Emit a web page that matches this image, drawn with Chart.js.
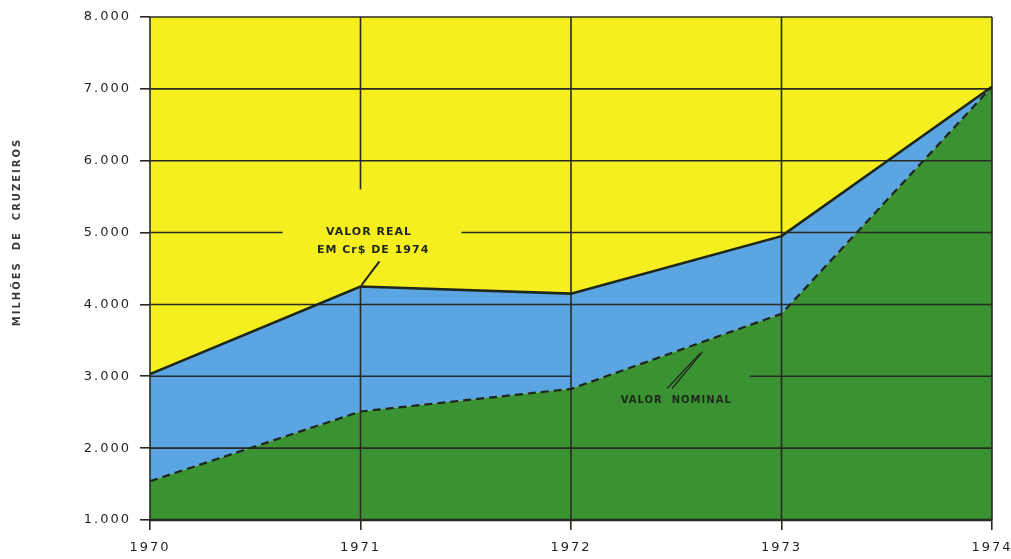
<!DOCTYPE html>
<html>
<head>
<meta charset="utf-8">
<script src="https://cdn.jsdelivr.net/npm/chart.js@4"></script>
<style>
  html, body { margin: 0; padding: 0; background: #ffffff; }
  #wrap { width: 1011px; height: 559px; position: relative; }
</style>
</head>
<body>
<div id="wrap"><canvas id="c" width="1011" height="559"></canvas></div>
<script>
// ---- data ----
const years = [1970, 1971, 1972, 1973, 1974];
const valorReal = [3030, 4250, 4150, 4950, 7030];
const valorNominal = [1540, 2510, 2825, 3870, 7030];
const yTickValues = [1000, 2000, 3000, 4000, 5000, 6000, 7000, 8000];
const yTickLabels = ['1.000', '2.000', '3.000', '4.000', '5.000', '6.000', '7.000', '8.000'];
const yAxisTitle = 'MILHÕES  DE  CRUZEIROS';
const labelReal = ['VALOR REAL', 'EM Cr$ DE 1974'];
const labelNominal = 'VALOR  NOMINAL';

// ---- style ----
const YELLOW = '#f6ef1f';
const BLUE = '#5aa5e2';
const GREEN = '#3b9232';
const INK = '#1f261c';
const GRID = '#272b22';

const xy = (xs, ys) => xs.map((x, i) => ({ x: x, y: ys[i] }));

const gaps = {
  v: { 1971: [[valorReal[1], 5600]] },
  h: { 5000: [[1970.63, 1971.48]], 3000: [[1972, 1972.85]] }
};

const decor = {
  id: 'decor',
  beforeDraw(chart) {
    const { ctx, chartArea: a } = chart;
    ctx.save();
    ctx.fillStyle = YELLOW;
    ctx.fillRect(a.left, a.top, a.width, a.height);
    ctx.restore();
    ctx.letterSpacing = '2px';
  },
  beforeDatasetsDraw(chart) {
    const { ctx, scales } = chart;
    const xs = scales.x, ys = scales.y;
    ctx.save();
    ctx.strokeStyle = GRID;
    ctx.lineWidth = 1.6;
    years.forEach(yr => {
      const px = xs.getPixelForValue(yr);
      const g = (gaps.v[yr] || []).slice().sort((p, q) => p[0] - q[0]);
      let from = yTickValues[0];
      const segs = [];
      g.forEach(([lo, hi]) => { segs.push([from, lo]); from = hi; });
      segs.push([from, yTickValues[yTickValues.length - 1]]);
      segs.forEach(([lo, hi]) => {
        ctx.beginPath();
        ctx.moveTo(px, ys.getPixelForValue(lo));
        ctx.lineTo(px, ys.getPixelForValue(hi));
        ctx.stroke();
      });
    });
    yTickValues.forEach(v => {
      const py = ys.getPixelForValue(v);
      const g = (gaps.h[v] || []).slice().sort((p, q) => p[0] - q[0]);
      let from = years[0];
      const segs = [];
      g.forEach(([lo, hi]) => { segs.push([from, lo]); from = hi; });
      segs.push([from, years[years.length - 1]]);
      ctx.lineWidth = (v === yTickValues[0]) ? 2.4 : 1.6;
      segs.forEach(([lo, hi]) => {
        ctx.beginPath();
        ctx.moveTo(xs.getPixelForValue(lo), py);
        ctx.lineTo(xs.getPixelForValue(hi), py);
        ctx.stroke();
      });
    });
    ctx.restore();
  },
  afterDatasetsDraw(chart) {
    const { ctx, scales } = chart;
    const xs = scales.x, ys = scales.y;
    const P = (xv, yv) => [xs.getPixelForValue(xv), ys.getPixelForValue(yv)];
    ctx.save();
    ctx.fillStyle = INK;
    ctx.strokeStyle = INK;
    ctx.textAlign = 'center';
    ctx.textBaseline = 'middle';
    ctx.font = 'bold 11px "DejaVu Sans"';
    ctx.letterSpacing = '1px';
    let p = P(1971.04, 5000);
    ctx.fillText(labelReal[0], p[0], p[1]);
    p = P(1971.06, 4760);
    ctx.fillText(labelReal[1], p[0], p[1]);
    ctx.lineWidth = 2;
    let s = P(1971.09, 4600), e = P(1971.005, valorReal[1] + 20);
    ctx.beginPath(); ctx.moveTo(s[0], s[1]); ctx.lineTo(e[0], e[1]); ctx.stroke();
    ctx.font = 'bold 10px "DejaVu Sans"';
    ctx.letterSpacing = '1px';
    p = P(1972.5, 2670);
    ctx.fillText(labelNominal, p[0], p[1]);
    ctx.lineWidth = 1.2;
    s = P(1972.625, 3340); e = P(1972.48, 2830);
    ctx.beginPath(); ctx.moveTo(s[0], s[1]); ctx.lineTo(e[0], e[1]); ctx.stroke();
    ctx.beginPath(); ctx.moveTo(s[0] - 2, s[1] + 1); ctx.lineTo(e[0] - 5, e[1]); ctx.stroke();
    ctx.restore();
  },
  afterDraw(chart) {
    const { ctx } = chart;
    ctx.save();
    ctx.translate(17, 232);
    ctx.rotate(-Math.PI / 2);
    ctx.font = 'bold 10px "DejaVu Sans"';
    ctx.letterSpacing = '2px';
    ctx.fillStyle = '#3a3d36';
    ctx.textAlign = 'center';
    ctx.textBaseline = 'middle';
    ctx.fillText(yAxisTitle, 0, 0);
    ctx.restore();
  }
};

new Chart(document.getElementById('c'), {
  type: 'line',
  data: {
    datasets: [
      {
        label: 'Valor real em Cr$ de 1974',
        data: xy(years, valorReal),
        borderColor: INK,
        borderWidth: 2.6,
        backgroundColor: BLUE,
        fill: { target: 1 },
        pointRadius: 0,
        tension: 0
      },
      {
        label: 'Valor nominal',
        data: xy(years, valorNominal),
        borderColor: INK,
        borderWidth: 2.2,
        borderDash: [8, 5],
        backgroundColor: GREEN,
        fill: 'start',
        pointRadius: 0,
        tension: 0
      }
    ]
  },
  options: {
    responsive: false,
    animation: false,
    events: [],
    layout: { padding: { top: 17, right: 19, bottom: 0, left: 0 } },
    plugins: {
      legend: { display: false },
      tooltip: { enabled: false },
      filler: { drawTime: 'beforeDatasetsDraw' }
    },
    scales: {
      x: {
        type: 'linear',
        min: years[0],
        max: years[years.length - 1],
        afterBuildTicks: sc => { sc.ticks = years.map(v => ({ value: v })); },
        ticks: {
          callback: v => String(v),
          font: { family: 'DejaVu Sans', size: 13 },
          color: '#1f221c',
          padding: 10,
          maxRotation: 0,
          autoSkip: false
        },
        grid: { drawOnChartArea: false, drawTicks: true, tickLength: 10, color: GRID, lineWidth: 1.6 },
        border: { display: false },
        afterFit: sc => { sc.height = 39; sc.paddingLeft = 0; sc.paddingRight = 0; }
      },
      y: {
        min: yTickValues[0],
        max: yTickValues[yTickValues.length - 1],
        afterBuildTicks: sc => { sc.ticks = yTickValues.map(v => ({ value: v })); },
        ticks: {
          callback: v => yTickLabels[yTickValues.indexOf(v)],
          font: { family: 'DejaVu Sans', size: 13 },
          color: '#1f221c',
          padding: 9,
          autoSkip: false
        },
        grid: { drawOnChartArea: false, drawTicks: true, tickLength: 10, color: GRID, lineWidth: 1.6 },
        border: { display: false },
        afterFit: sc => { sc.width = 150; sc.paddingTop = 0; sc.paddingBottom = 0; }
      }
    }
  },
  plugins: [decor]
});
</script>
</body>
</html>
